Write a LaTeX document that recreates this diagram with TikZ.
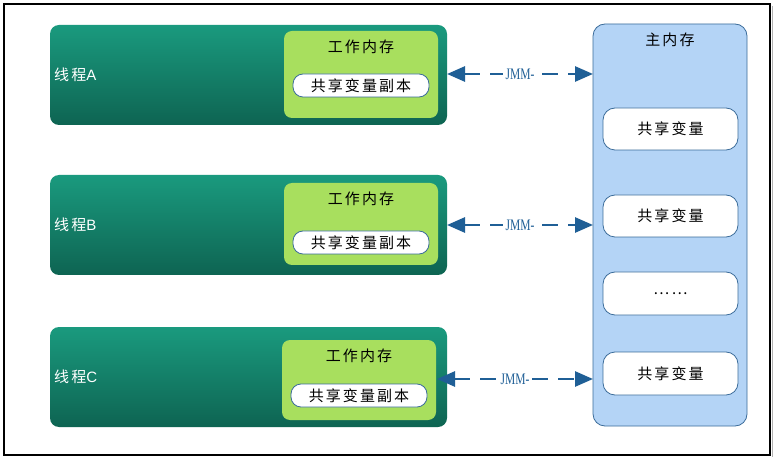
\documentclass[tikz,border=0pt]{standalone}
\usepackage{fontspec}
\setmainfont{Liberation Serif}
\newfontfamily\cjk[LetterSpace=14]{Noto Sans CJK SC}
\usetikzlibrary{arrows.meta}
\definecolor{thrtop}{HTML}{1A9A7E}
\definecolor{thrbot}{HTML}{0E6452}
\definecolor{wmgreen}{HTML}{A8DF5E}
\definecolor{mainblue}{HTML}{B4D4F6}
\definecolor{mainedge}{HTML}{3B6C9A}
\definecolor{arrblue}{HTML}{1F5F96}
\tikzset{
  thread/.style={rounded corners=9pt, top color=thrtop, bottom color=thrbot, draw=none},
  workmem/.style={rounded corners=8pt, fill=wmgreen, draw=none},
  copypill/.style={rounded corners=10pt, fill=white, draw=mainedge, line width=0.8pt},
  sharedvar/.style={rounded corners=12pt, fill=white, draw=mainedge, line width=0.8pt},
  jmm/.style={arrblue, line width=2.8pt, dash pattern=on 16pt off 10pt, {Triangle[length=18pt,width=15pt]}-{Triangle[length=18pt,width=15pt]}},
  jmmlabel/.style={fill=white, text=arrblue, font=\fontsize{16}{16}\selectfont, inner xsep=3pt, inner ysep=1pt},
  txt/.style={font=\cjk\fontsize{15}{15}\selectfont, inner sep=0pt}
}
\newcommand{\jmmtext}{\scalebox{0.72}[1]{JMM-}}
\begin{document}
\begin{tikzpicture}[x=1pt,y=-1pt]
\useasboundingbox (0,0) rectangle (776,462);
\fill[white] (0,0) rectangle (776,462);
\draw[black, line width=2.5pt] (4,4) rectangle (770,455);
\fill[gray!60] (771.5,6) rectangle (773,457);
% main memory
\draw[mainedge, fill=mainblue, line width=0.8pt, rounded corners=12pt] (593,24) rectangle (747,426);
\node[txt] (mainlbl) at (670,40) {主内存};
\draw[sharedvar] (603,108) rectangle (738,150) node[midway, txt] (sv1) {共享变量};
\draw[sharedvar] (603,195) rectangle (738,237) node[midway, txt] (sv2) {共享变量};
\draw[sharedvar] (603,272) rectangle (738,315) node[midway, txt] (sv3) {…\,…};
\draw[sharedvar] (603,352) rectangle (738,395) node[midway, txt] (sv4) {共享变量};
\coordinate (mmA) at (593,74);
\coordinate (mmB) at (593,225);
\coordinate (mmC) at (593,379);
% threads
\foreach \n/\y/\wy/\wh/\cy/\wx in {A/25/31/87/74/284, B/175/183/82/231/284, C/327/340/80/384/282}{
  \draw[thread] (50,\y) rectangle (447,\y+100);
  \node[font=\cjk\fontsize{15}{15}\selectfont, inner sep=0pt, text=white, anchor=west] (lbl\n) at (54,\y+50) {线程{\fontspec{Liberation Sans}\n}};
  \draw[workmem] (\wx,\wy) rectangle (\wx+154,\wy+\wh);
  \node[txt] (wm\n) at (\wx+77,\wy+16) {工作内存};
  \draw[copypill] (\wx+9,\cy) rectangle (\wx+145,\cy+23) node[midway, txt] (cp\n) {共享变量副本};
}
\coordinate (thA) at (447,74);
\coordinate (thB) at (447,225);
\coordinate (thC) at (437,379);
\draw[jmm] (thA) -- (mmA) node[midway, jmmlabel] {\jmmtext};
\draw[jmm] (thB) -- (mmB) node[midway, jmmlabel] {\jmmtext};
\draw[jmm] (thC) -- (mmC) node[midway, jmmlabel] {\jmmtext};
\end{tikzpicture}
\end{document}
